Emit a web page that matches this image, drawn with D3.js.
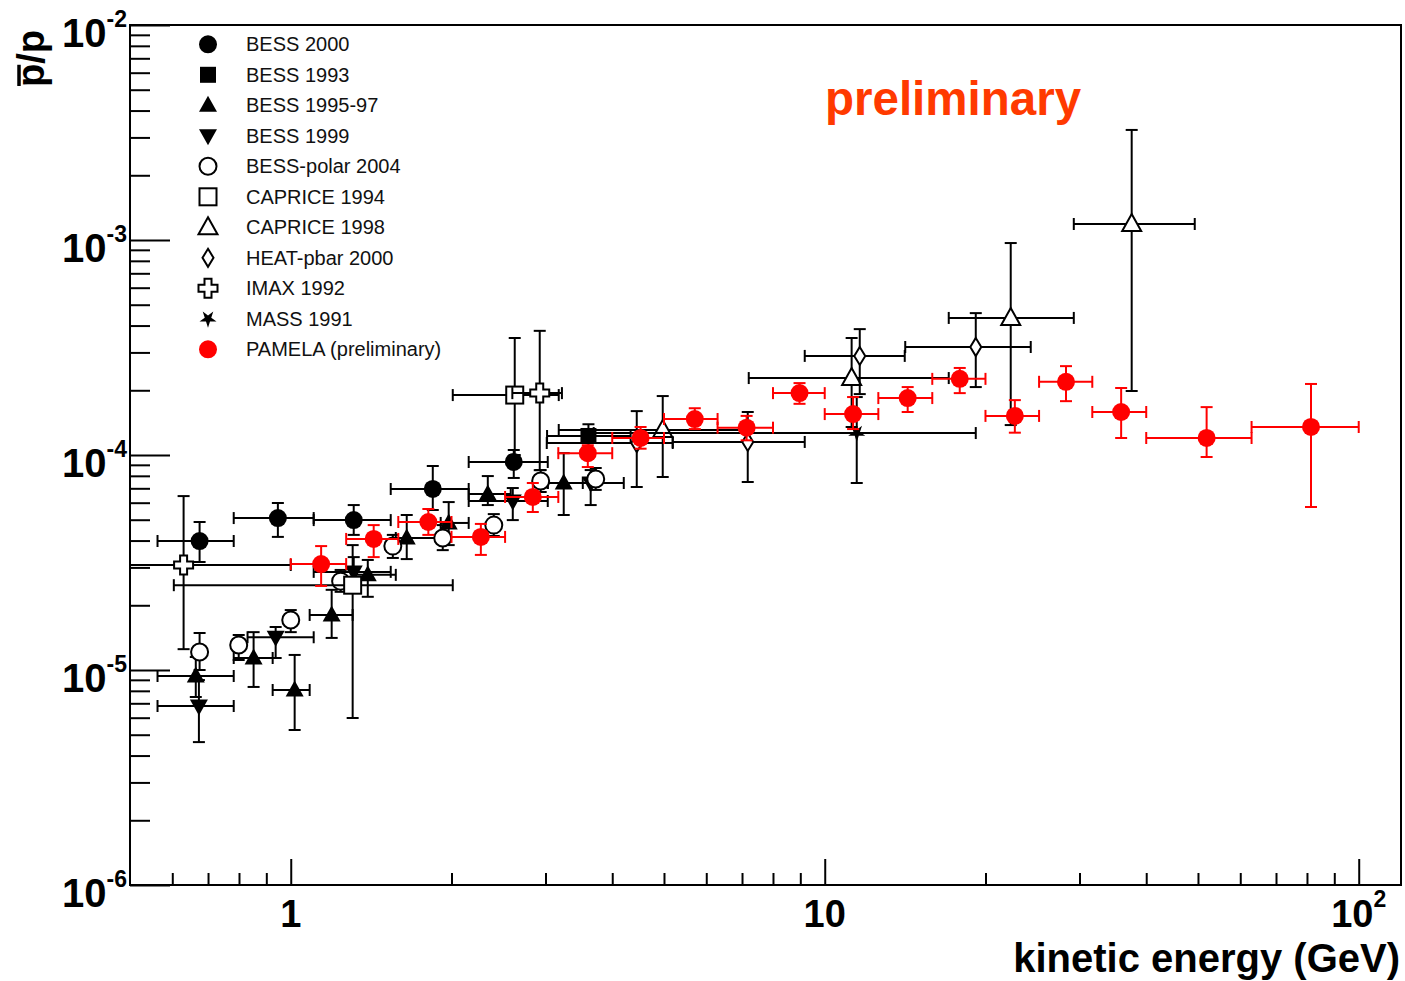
<!DOCTYPE html>
<html><head><meta charset="utf-8">
<script src="https://cdn.jsdelivr.net/npm/d3@7"></script>
<style>
body{margin:0;background:#fff;}
svg{display:block;font-family:"Liberation Sans",Arial,Helvetica,sans-serif;}
</style></head><body>
<svg id="chart" width="1405" height="981"></svg>
<script>
// Antiproton-to-proton flux ratio measurements.
// Each row: [E, E low edge, E high edge, ratio, ratio low, ratio high]   (E in GeV)
const bess2000 = [
  [0.675, 0.563, 0.782, 3.98e-5, 3.18e-5, 4.88e-5],
  [0.946, 0.782, 1.104, 5.09e-5, 4.16e-5, 5.98e-5],
  [1.312, 1.104, 1.539, 4.98e-5, 4.25e-5, 5.85e-5],
  [1.845, 1.539, 2.154, 6.95e-5, 5.55e-5, 8.89e-5],
  [2.616, 2.154, 3.029, 9.28e-5, 7.82e-5, 1.055e-4]
];
const bess1993 = [
  [3.61, 3.02, 4.33, 1.226e-4, 1.055e-4, 1.39e-4]
];
const bess1995_97 = [
  [0.664, 0.563, 0.782, 9.38e-6, 7.49e-6, 1.149e-5],
  [0.852, 0.782, 0.925, 1.137e-5, 8.34e-6, 1.50e-5],
  [1.017, 0.925, 1.085, 8.07e-6, 5.26e-6, 1.175e-5],
  [1.193, 1.085, 1.306, 1.803e-5, 1.41e-5, 2.36e-5],
  [1.394, 1.306, 1.573, 2.77e-5, 2.19e-5, 3.25e-5],
  [1.649, 1.573, 1.909, 4.11e-5, 3.28e-5, 5.26e-5],
  [1.976, 1.909, 2.154, 4.83e-5, 3.81e-5, 6.04e-5],
  [2.339, 2.154, 2.582, 6.58e-5, 5.85e-5, 7.98e-5],
  [3.245, 3.029, 3.523, 7.41e-5, 5.26e-5, 1.02e-4]
];
const bess1999 = [
  [0.673, 0.563, 0.782, 6.80e-6, 4.62e-6, 8.98e-6],
  [0.937, 0.830, 1.104, 1.42e-5, 1.137e-5, 1.585e-5],
  [1.312, 1.104, 1.539, 2.86e-5, 2.48e-5, 3.35e-5],
  [2.605, 2.154, 3.029, 6.11e-5, 4.98e-5, 7.02e-5],
  [3.645, 3.029, 4.204, 7.41e-5, 5.85e-5, 8.51e-5]
];
const bessPolar2004 = [
  [0.675, 0.675, 0.675, 1.213e-5, 1.0e-5, 1.486e-5],
  [0.799, 0.799, 0.799, 1.307e-5, 1.113e-5, 1.455e-5],
  [1.0, 1.0, 1.0, 1.708e-5, 1.50e-5, 1.90e-5],
  [1.240, 1.240, 1.240, 2.59e-5, 2.31e-5, 2.92e-5],
  [1.553, 1.553, 1.553, 3.77e-5, 3.32e-5, 4.25e-5],
  [1.926, 1.926, 1.926, 4.11e-5, 3.61e-5, 4.72e-5],
  [2.40, 2.40, 2.40, 4.72e-5, 4.20e-5, 5.31e-5],
  [2.938, 2.938, 2.938, 7.57e-5, 6.73e-5, 8.51e-5],
  [3.725, 3.725, 3.725, 7.73e-5, 6.88e-5, 8.70e-5]
];
const caprice1994 = [
  [1.306, 0.604, 2.011, 2.48e-5, 5.98e-6, 3.81e-5],
  [2.627, 2.011, 3.176, 1.90e-4, 1.0e-4, 3.50e-4]
];
const caprice1998 = [
  [4.973, 3.176, 7.206, 1.307e-4, 7.9e-5, 1.88e-4],
  [11.23, 7.206, 17.07, 2.28e-4, 1.35e-4, 3.50e-4],
  [22.30, 17.07, 29.27, 4.34e-4, 1.378e-4, 9.68e-4],
  [37.57, 29.27, 49.31, 1.187e-3, 1.985e-4, 3.25e-3]
];
const heat2000 = [
  [4.446, 3.016, 5.192, 1.137e-4, 7.10e-5, 1.60e-4],
  [7.175, 5.192, 9.174, 1.15e-4, 7.49e-5, 1.585e-4],
  [11.63, 9.174, 14.12, 2.89e-4, 1.92e-4, 3.85e-4],
  [19.18, 14.15, 24.31, 3.18e-4, 2.07e-4, 4.57e-4]
];
const imax1992 = [
  [0.630, 0.25, 1.0, 3.08e-5, 1.25e-5, 6.44e-5],
  [2.926, 2.6, 3.22, 1.94e-4, 8.5e-5, 3.78e-4]
];
const mass1991 = [
  [11.48, 3.693, 19.18, 1.265e-4, 7.41e-5, 1.86e-4]
];
const pamela = [
  [1.14, 1.0, 1.27, 3.11e-5, 2.46e-5, 3.77e-5],
  [1.43, 1.27, 1.59, 4.07e-5, 3.35e-5, 4.72e-5],
  [1.81, 1.59, 2.0, 4.88e-5, 4.25e-5, 5.61e-5],
  [2.27, 2.0, 2.52, 4.16e-5, 3.43e-5, 4.78e-5],
  [2.84, 2.52, 3.17, 6.38e-5, 5.43e-5, 7.41e-5],
  [3.60, 3.17, 4.0, 1.02e-4, 8.79e-5, 1.11e-4],
  [4.52, 4.0, 5.0, 1.20e-4, 1.07e-4, 1.35e-4],
  [5.71, 5.0, 6.3, 1.47e-4, 1.32e-4, 1.65e-4],
  [7.14, 6.3, 8.0, 1.34e-4, 1.17e-4, 1.52e-4],
  [8.97, 8.0, 10.0, 1.94e-4, 1.73e-4, 2.16e-4],
  [11.3, 10.0, 12.6, 1.55e-4, 1.32e-4, 1.86e-4],
  [14.3, 12.6, 15.9, 1.84e-4, 1.585e-4, 2.07e-4],
  [17.9, 15.9, 20.0, 2.26e-4, 1.94e-4, 2.54e-4],
  [22.7, 20.0, 25.2, 1.52e-4, 1.27e-4, 1.80e-4],
  [28.3, 25.2, 31.7, 2.19e-4, 1.78e-4, 2.59e-4],
  [35.9, 31.7, 40.0, 1.585e-4, 1.20e-4, 2.05e-4],
  [51.9, 40.0, 63.0, 1.20e-4, 9.79e-5, 1.67e-4],
  [81.4, 63.0, 100.0, 1.35e-4, 5.73e-5, 2.14e-4]
];

const seriesNames = ["BESS 2000", "BESS 1993", "BESS 1995-97", "BESS 1999", "BESS-polar 2004",
  "CAPRICE 1994", "CAPRICE 1998", "HEAT-pbar 2000", "IMAX 1992", "MASS 1991", "PAMELA (preliminary)"];
const seriesData = [bess2000, bess1993, bess1995_97, bess1999, bessPolar2004,
  caprice1994, caprice1998, heat2000, imax1992, mass1991, pamela];
const seriesMarkers = ["circle", "square", "triUp", "triDown", "openCircle",
  "openSquare", "openTri", "openDiamond", "openCross", "star", "redCircle"];

const yTickExponents = [-6, -5, -4, -3, -2];
const xTickValues = [1, 10, 100];
const xTickBase = ["1", "10", "10"];
const xTickExp = ["", "", "2"];

const RED = "#ff0000";
const X0 = 130, X1 = 1401, Y0 = 25, Y1 = 885;

const svg = d3.select("#chart");
const x = d3.scaleLog().domain([0.5, 120]).range([X0, X1]);
const y = d3.scaleLog().domain([1e-6, 1e-2]).range([Y1, Y0]);

// ---- axes (ticks point into the frame) ----
const minorX = [];
[0.1, 1, 10].forEach(d => { for (let k = 2; k <= 9; k++) { const v = k * d; if (v > 0.5 && v < 120) minorX.push(v); } });
const minorY = [];
[1e-6, 1e-5, 1e-4, 1e-3].forEach(d => { for (let k = 2; k <= 9; k++) minorY.push(k * d); });

function styleAxis(g) {
  g.select(".domain").remove();
  g.selectAll(".tick line").attr("stroke", "#000").attr("stroke-width", 2);
}
svg.append("g").attr("transform", `translate(0,${Y1})`)
  .call(d3.axisBottom(x).tickValues(minorX).tickSize(-12).tickSizeOuter(0).tickFormat(""))
  .call(styleAxis);
svg.append("g").attr("transform", `translate(0,${Y1})`)
  .call(d3.axisBottom(x).tickValues(xTickValues).tickSize(-26).tickSizeOuter(0).tickFormat(""))
  .call(styleAxis);
svg.append("g").attr("transform", `translate(${X0},0)`)
  .call(d3.axisLeft(y).tickValues(minorY).tickSize(-20).tickSizeOuter(0).tickFormat(""))
  .call(styleAxis);
svg.append("g").attr("transform", `translate(${X0},0)`)
  .call(d3.axisLeft(y).tickValues(yTickExponents.map(e => Math.pow(10, e))).tickSize(-40).tickSizeOuter(0).tickFormat(""))
  .call(styleAxis);

svg.append("rect").attr("x", X0).attr("y", Y0).attr("width", X1 - X0).attr("height", Y1 - Y0)
  .attr("fill", "none").attr("stroke", "#000").attr("stroke-width", 2);

// tick labels with superscript exponents
yTickExponents.forEach(e => {
  const t = svg.append("text").attr("x", 127).attr("y", y(Math.pow(10, e)) + 22)
    .attr("text-anchor", "end").attr("font-weight", "bold").attr("font-size", 40);
  t.append("tspan").text("10");
  t.append("tspan").attr("font-size", 23).attr("dy", -20).text("-" + Math.abs(e));
});
xTickValues.forEach((v, i) => {
  const t = svg.append("text").attr("x", x(v)).attr("y", 927)
    .attr("text-anchor", "middle").attr("font-weight", "bold").attr("font-size", 38);
  t.append("tspan").text(xTickBase[i]);
  if (xTickExp[i]) t.append("tspan").attr("font-size", 23).attr("dy", -20).text(xTickExp[i]);
});

// axis titles
svg.append("text").attr("x", 1400).attr("y", 971.5).attr("text-anchor", "end")
  .attr("font-weight", "bold").attr("font-size", 40).text("kinetic energy (GeV)");
const yTitle = svg.append("g").attr("transform", "translate(44,30) rotate(-90)");
const yTitleText = yTitle.append("text").attr("text-anchor", "end")
  .attr("font-weight", "bold").attr("font-size", 38).text("p/p");
{
  const total = yTitleText.node().getComputedTextLength();
  const w = yTitleText.node().getSubStringLength(0, 1);
  yTitle.append("line").attr("x1", -total + 1).attr("x2", -total + w - 1)
    .attr("y1", -25).attr("y2", -25).attr("stroke", "#000").attr("stroke-width", 3.5);
}

svg.append("text").attr("x", 825).attr("y", 115).attr("fill", "#ff3a00")
  .attr("font-weight", "bold").attr("font-size", 47.5).text("preliminary");

// ---- markers ----
function drawMarker(g, type, cx, cy) {
  const m = g.append("g").attr("transform", `translate(${cx},${cy})`);
  const open = { fill: "#fff", stroke: "#000", "stroke-width": 2 };
  const setAll = (sel, o) => { Object.entries(o).forEach(([k, v]) => sel.attr(k, v)); return sel; };
  switch (type) {
    case "circle": m.append("circle").attr("r", 9).attr("fill", "#000"); break;
    case "redCircle": m.append("circle").attr("r", 9).attr("fill", RED); break;
    case "square": m.append("rect").attr("x", -8).attr("y", -8).attr("width", 16).attr("height", 16).attr("fill", "#000"); break;
    case "triUp": m.append("path").attr("d", "M0,-9.5L9,6.5L-9,6.5Z").attr("fill", "#000"); break;
    case "triDown": m.append("path").attr("d", "M0,9.5L9,-6.5L-9,-6.5Z").attr("fill", "#000"); break;
    case "openCircle": setAll(m.append("circle").attr("r", 8.5), open); break;
    case "openSquare": setAll(m.append("rect").attr("x", -8.5).attr("y", -8.5).attr("width", 17).attr("height", 17), open); break;
    case "openTri": setAll(m.append("path").attr("d", "M0,-10L9.5,7L-9.5,7Z"), open); break;
    case "openDiamond": setAll(m.append("path").attr("d", "M0,-9L5.5,0L0,9L-5.5,0Z"), open); break;
    case "openCross": {
      const a = 3.5, b = 9.5;
      setAll(m.append("path").attr("d",
        `M${-a},${-b}L${a},${-b}L${a},${-a}L${b},${-a}L${b},${a}L${a},${a}L${a},${b}L${-a},${b}L${-a},${a}L${-b},${a}L${-b},${-a}L${-a},${-a}Z`), open);
      break;
    }
    case "star": m.append("path").attr("d", d3.symbol().type(d3.symbolStar).size(90)())
      .attr("transform", "rotate(180)").attr("fill", "#000"); break;
  }
}

// ---- data ----
svg.append("defs").append("clipPath").attr("id", "plotClip")
  .append("rect").attr("x", X0).attr("y", Y0).attr("width", X1 - X0).attr("height", Y1 - Y0);
const plot = svg.append("g").attr("clip-path", "url(#plotClip)");
const CAP = 6;

seriesData.forEach((rows, si) => {
  const type = seriesMarkers[si];
  const col = type === "redCircle" ? RED : "#000";
  const g = plot.append("g");
  const bars = g.append("g").attr("stroke", col).attr("stroke-width", 2).attr("fill", "none");
  rows.forEach(([E, El, Eh, R, Rl, Rh]) => {
    const cx = x(E), cy = y(R);
    if (Eh > El) {
      bars.append("line").attr("x1", x(El)).attr("x2", x(Eh)).attr("y1", cy).attr("y2", cy);
      [El, Eh].forEach(v => bars.append("line").attr("x1", x(v)).attr("x2", x(v)).attr("y1", cy - CAP).attr("y2", cy + CAP));
    }
    bars.append("line").attr("x1", cx).attr("x2", cx).attr("y1", y(Rh)).attr("y2", y(Rl));
    [Rl, Rh].forEach(v => bars.append("line").attr("x1", cx - CAP).attr("x2", cx + CAP).attr("y1", y(v)).attr("y2", y(v)));
  });
  rows.forEach(([E, , , R]) => drawMarker(g, type, x(E), y(R)));
});

// ---- legend ----
const legY0 = 44.3, legStep = 30.5;
seriesNames.forEach((name, i) => {
  const ly = legY0 + i * legStep;
  drawMarker(svg, seriesMarkers[i], 208, ly);
  svg.append("text").attr("x", 246).attr("y", ly + 7).attr("font-size", 20)
    .attr("fill", "#111").text(name);
});
</script>
</body></html>
